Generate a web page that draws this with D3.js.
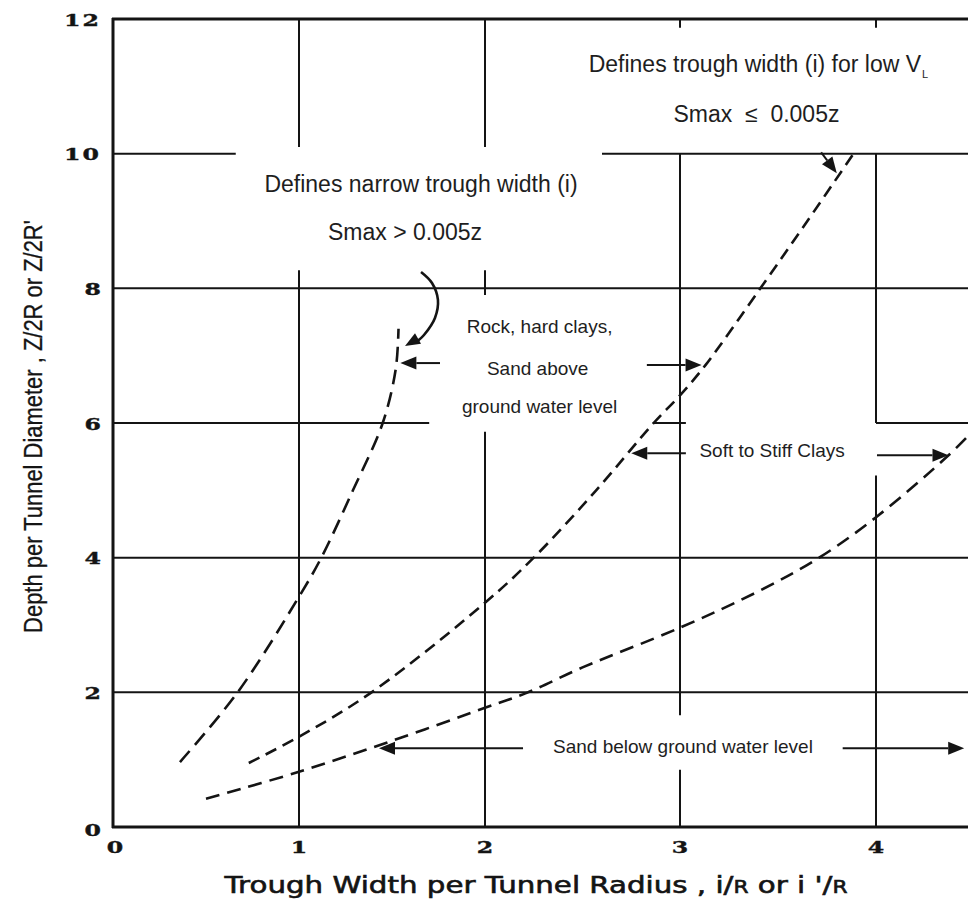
<!DOCTYPE html>
<html><head><meta charset="utf-8">
<script src="https://cdn.jsdelivr.net/npm/d3@7"></script>
<style>
html,body{margin:0;padding:0;background:#fff;}
svg{display:block;}
</style></head><body>
<svg id="chart" width="968" height="901"></svg>
<script>
// ---------------- data ----------------
const xTicks = [0, 1, 2, 3, 4];
const xTickLabels = ["0", "1", "2", "3", "4"];
const yTicks = [0, 2, 4, 6, 8, 10, 12];
const yTickLabels = ["0", "2", "4", "6", "8", "10", "12"];
const xTitle = "Trough Width per Tunnel Radius , i/R or i '/R";
const yTitle = "Depth per Tunnel Diameter , Z/2R or Z/2R'";

// curves: [i/R, Z/2R]
const curveRock = [[0.36,0.965],[0.67,2.0],[1.0,3.42],[1.12,4.0],[1.29,5.0],[1.45,6.0],[1.52,6.8],[1.535,7.4]];
const curveSoftClay = [[0.73,0.95],[1.0,1.34],[1.39,2.0],[2.0,3.33],[2.25,4.0],[2.57,5.0],[2.865,6.0],[3.0,6.41],[3.13,6.86],[3.41,8.0],[3.65,9.0],[3.89,10.02]];
const curveSandBelow = [[0.50,0.42],[1.0,0.82],[1.5,1.28],[2.0,1.77],[2.22,2.0],[2.5,2.37],[3.0,2.96],[3.4,3.5],[3.71,4.0],[4.0,4.6],[4.37,5.52],[4.5,5.9]];

// visible pieces of the grid lines (gaps behind annotation text)
const hGrid = [
  {v: 10, segs: [[0, 0.66], [2.6, 4.6]]},
  {v: 8,  segs: [[0, 4.6]]},
  {v: 6,  segs: [[0, 1.7], [2.86, 3.03], [4.0, 4.6]]},
  {v: 4,  segs: [[0, 4.6]]},
  {v: 2,  segs: [[0, 4.6]]}
];
const vGrid = [
  {v: 1, segs: [[10.1, 12], [0, 8.27]]},
  {v: 2, segs: [[10.1, 12], [7.9, 8.27], [0, 5.87]]},
  {v: 3, segs: [[11.87, 12], [1.66, 10], [0, 0.85]]},
  {v: 4, segs: [[11.87, 12], [6, 10], [0, 5.22]]}
];

// annotation labels
const labels = [
  {text: "Defines narrow trough width (i)", x: 1.656, y: 9.43, size: 23},
  {text: "Smax > 0.005z", x: 1.57, y: 8.72, size: 23},
  {text: "Smax  \u2264  0.005z", x: 3.39, y: 10.47, size: 23},
  {text: "Rock, hard clays,", x: 2.28, y: 7.34, size: 19},
  {text: "Sand above", x: 2.27, y: 6.71, size: 19},
  {text: "ground water level", x: 2.28, y: 6.15, size: 19},
  {text: "Soft to Stiff Clays", x: 3.47, y: 5.50, size: 19},
  {text: "Sand below ground water level", x: 3.015, y: 1.10, size: 19}
];
const lowVLabel = {text: "Defines trough width (i) for low V", sub: "L", x: 3.40, y: 11.21, size: 23};

// straight arrows: from -> tip
const arrows = [
  {from: [1.758, 6.89], to: [1.545, 6.89]},
  {from: [2.83, 6.86], to: [3.11, 6.86]},
  {from: [3.03, 5.55], to: [2.75, 5.55]},
  {from: [4.005, 5.52], to: [4.37, 5.52]},
  {from: [2.195, 1.17], to: [1.43, 1.17]},
  {from: [3.83, 1.17], to: [4.45, 1.17]},
  {from: [3.72, 10.02], to: [3.80, 9.71]}
];
const curvedArrow = [[1.656,8.243],[1.715,8.08],[1.747,7.827],[1.731,7.56],[1.672,7.307],[1.57,7.144]];

// ---------------- drawing ----------------
const svg = d3.select("#chart");
const x = d3.scaleLinear().domain(xTicks).range([113, 299, 485, 680, 876]);
const y = d3.scaleLinear().domain([0, 12]).range([827, 19]);
const ink = "#141414";

// grid
const hSegs = hGrid.flatMap(g => g.segs.map(s => ({v: g.v, a: s[0], b: s[1]})));
svg.append("g").selectAll("line").data(hSegs).join("line")
  .attr("x1", d => x(d.a)).attr("x2", d => x(d.b))
  .attr("y1", d => y(d.v)).attr("y2", d => y(d.v))
  .attr("stroke", ink).attr("stroke-width", 2);
const vSegs = vGrid.flatMap(g => g.segs.map(s => ({v: g.v, a: s[0], b: s[1]})));
svg.append("g").selectAll("line").data(vSegs).join("line")
  .attr("x1", d => x(d.v)).attr("x2", d => x(d.v))
  .attr("y1", d => y(d.a)).attr("y2", d => y(d.b))
  .attr("stroke", ink).attr("stroke-width", 2);

// frame (top, left, bottom)
const frame = svg.append("g").attr("stroke", ink).attr("stroke-width", 3).attr("fill", "none");
frame.append("line").attr("x1", x(0) - 1).attr("x2", x(4.6)).attr("y1", y(12)).attr("y2", y(12));
frame.append("line").attr("x1", x(0)).attr("x2", x(0)).attr("y1", y(12) - 1).attr("y2", y(0) + 1);
frame.append("line").attr("x1", x(0) - 1).attr("x2", x(4.6)).attr("y1", y(0)).attr("y2", y(0));

// tick labels
const tickFont = "'DejaVu Serif', serif";
svg.append("g").selectAll("text").data(yTicks).join("text")
  .attr("transform", d => `translate(101,${y(d) + (d === 0 ? 9 : 6.5)}) scale(1.35,1)`)
  .attr("text-anchor", "end")
  .attr("font-family", tickFont).attr("font-weight", "bold").attr("font-size", 17.5)
  .attr("letter-spacing", (d, i) => yTickLabels[i].length > 1 ? 1.5 : 0)
  .attr("fill", ink).attr("stroke", ink).attr("stroke-width", 0.4)
  .text((d, i) => yTickLabels[i]);
svg.append("g").selectAll("text").data(xTicks).join("text")
  .attr("transform", d => `translate(${x(d) + (d === 0 ? 2 : 0)},853) scale(1.35,1)`)
  .attr("text-anchor", "middle")
  .attr("font-family", tickFont).attr("font-weight", "bold").attr("font-size", 17.5)
  .attr("fill", ink).attr("stroke", ink).attr("stroke-width", 0.4)
  .text((d, i) => xTickLabels[i]);

// axis titles (fitted to width)
function fitText(sel, target) {
  const len = sel.node().getComputedTextLength();
  return target / len;
}
const xt = svg.append("text")
  .attr("font-family", "'DejaVu Sans', sans-serif").attr("font-size", 23)
  .attr("fill", ink).attr("stroke", ink).attr("stroke-width", 0.6)
  .attr("text-anchor", "middle");
xt.append("tspan").text("Trough Width per Tunnel Radius , i/");
xt.append("tspan").attr("font-size", 17).text("R");
xt.append("tspan").text(" or i '/");
xt.append("tspan").attr("font-size", 17).text("R");
const sxX = fitText(xt, 623);
xt.attr("transform", `translate(536,893) scale(${sxX},1)`);

const yt = svg.append("text")
  .attr("font-family", "'Liberation Sans Narrow', 'Arial Narrow', 'Liberation Sans', sans-serif")
  .attr("font-size", 25).attr("fill", ink).attr("stroke", ink).attr("stroke-width", 0.3)
  .attr("text-anchor", "middle")
  .text(yTitle);
const sxY = fitText(yt, 413);
yt.attr("transform", `translate(42,426.5) rotate(-90) scale(${sxY},1)`);

// curves
const line = d3.line().x(d => x(d[0])).y(d => y(d[1])).curve(d3.curveCatmullRom.alpha(0.5));
const curves = [
  {pts: curveRock, dash: "15,8"},
  {pts: curveSoftClay, dash: "12,7"},
  {pts: curveSandBelow, dash: "14,8"}
];
svg.append("g").selectAll("path").data(curves).join("path")
  .attr("d", d => line(d.pts))
  .attr("fill", "none").attr("stroke", ink).attr("stroke-width", 2.6)
  .attr("stroke-dasharray", d => d.dash);

// labels
const annFont = "'Liberation Sans', Arial, sans-serif";
svg.append("g").selectAll("text").data(labels).join("text")
  .attr("x", d => x(d.x)).attr("y", d => y(d.y))
  .attr("text-anchor", "middle")
  .attr("font-family", annFont).attr("font-size", d => d.size)
  .style("white-space", "pre")
  .attr("fill", "#1e1e1e")
  .text(d => d.text);
const lv = svg.append("text")
  .attr("x", x(lowVLabel.x)).attr("y", y(lowVLabel.y))
  .attr("text-anchor", "middle")
  .attr("font-family", annFont).attr("font-size", lowVLabel.size).attr("fill", "#1e1e1e");
lv.append("tspan").text(lowVLabel.text);
lv.append("tspan").attr("font-size", 11).attr("dy", 6).attr("dx", 1).text(lowVLabel.sub);

// arrows
function head(tip, from, L = 16, W = 6.5) {
  const dx = tip[0] - from[0], dy = tip[1] - from[1];
  const n = Math.hypot(dx, dy), ux = dx / n, uy = dy / n;
  const bx = tip[0] - L * ux, by = tip[1] - L * uy;
  return [[tip[0], tip[1]], [bx - W * uy, by + W * ux], [bx + W * uy, by - W * ux]];
}
const ag = svg.append("g");
arrows.forEach(a => {
  const p0 = [x(a.from[0]), y(a.from[1])], p1 = [x(a.to[0]), y(a.to[1])];
  const h = head(p1, p0);
  const mid = [(h[1][0] + h[2][0]) / 2, (h[1][1] + h[2][1]) / 2];
  ag.append("line").attr("x1", p0[0]).attr("y1", p0[1]).attr("x2", mid[0]).attr("y2", mid[1])
    .attr("stroke", ink).attr("stroke-width", 2);
  ag.append("path").attr("d", "M" + h.join("L") + "Z").attr("fill", ink);
});
// curved arrow
const cline = d3.line().x(d => x(d[0])).y(d => y(d[1])).curve(d3.curveCatmullRom.alpha(0.5));
ag.append("path").attr("d", cline(curvedArrow.slice(0, -1).concat([[ (curvedArrow[4][0]+curvedArrow[5][0])/2 + 0.02, (curvedArrow[4][1]+curvedArrow[5][1])/2 ]])))
  .attr("fill", "none").attr("stroke", ink).attr("stroke-width", 2.6);
{
  const n = curvedArrow.length;
  const tip = [x(curvedArrow[n - 1][0]), y(curvedArrow[n - 1][1])];
  const prev = [x(curvedArrow[n - 2][0]), y(curvedArrow[n - 2][1])];
  ag.append("path").attr("d", "M" + head(tip, prev, 15, 6).join("L") + "Z").attr("fill", ink);
}
</script>
</body></html>
